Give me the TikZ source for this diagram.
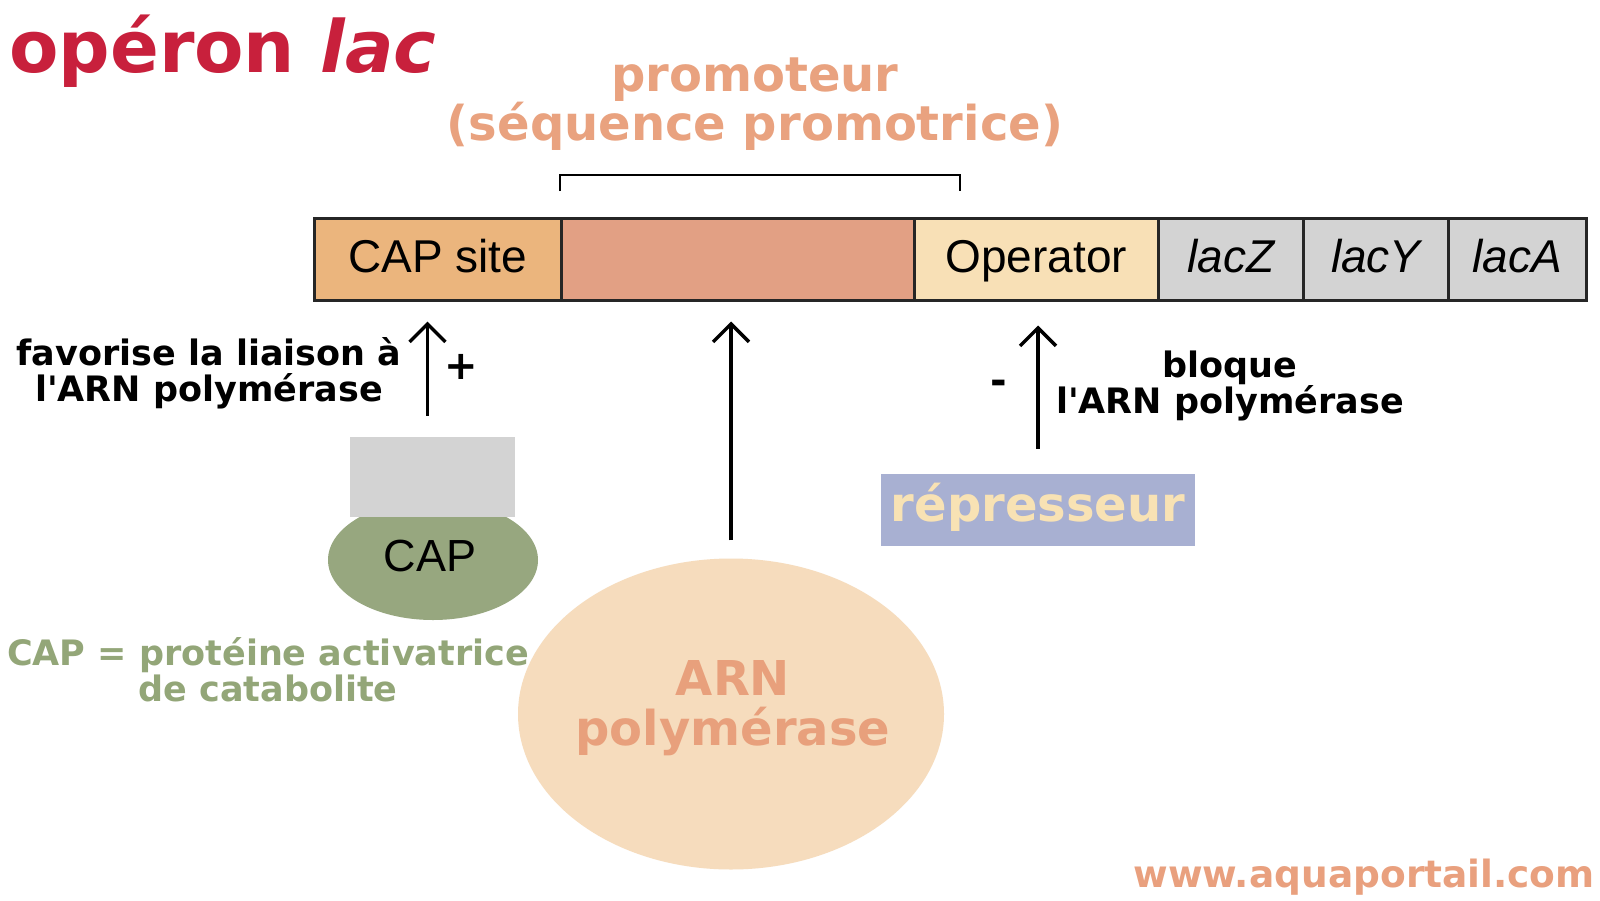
\documentclass[tikz,border=0pt]{standalone}
\usepackage{fontspec}
\setmainfont{DejaVu Sans}
\newfontfamily\arialfont{Liberation Sans}
\usetikzlibrary{arrows.meta,shapes.geometric}
\definecolor{capsitefill}{HTML}{EBB57D}
\definecolor{promofill}{HTML}{E2A084}
\definecolor{operfill}{HTML}{F8E0B6}
\definecolor{genegray}{HTML}{D3D3D3}
\definecolor{titlered}{HTML}{C8203C}
\definecolor{promotxt}{HTML}{E9A27F}
\definecolor{capgreen}{HTML}{97A77F}
\definecolor{capgreentxt}{HTML}{93A678}
\definecolor{arnfill}{HTML}{F6DCBD}
\definecolor{arntxt}{HTML}{E8A07C}
\definecolor{repblue}{HTML}{A8B0D2}
\definecolor{reptxt}{HTML}{F8E2B4}
\definecolor{webtxt}{HTML}{E9A07E}
\tikzset{
  cell/.style={draw=black!85, line width=2.5pt, minimum height=82pt, anchor=north west,
    inner sep=0pt, text height=36pt, text depth=10pt, font=\arialfont\fontsize{46}{46}\selectfont},
  genecell/.style={cell, fill=genegray, font=\arialfont\itshape\fontsize{46}{46}\selectfont},
  lbl/.style={inner sep=0pt, align=center, font=\bfseries\fontsize{35}{36}\selectfont},
  bigtxt/.style={inner sep=0pt, align=center, font=\bfseries\fontsize{48}{48}\selectfont},
  arr/.style={-{Straight Barb[length=18pt,width=36pt]}, line width=3.5pt},
}
\begin{document}
\begin{tikzpicture}[x=1pt,y=-1pt]
\useasboundingbox[fill=white] (0,0) rectangle (1600,900);
% title
\node[anchor=base west, inner sep=0pt, text=titlered, font=\bfseries\fontsize{72}{72}\selectfont] (title) at (9,72) {opéron \textit{lac}};
% promoter label
\node[bigtxt, text=promotxt] (promtxt) at (755,104) {promoteur\\(séquence promotrice)};
\coordinate (bl) at (560,191);
\coordinate (blt) at (560,175);
\coordinate (brt) at (960,175);
\coordinate (br) at (960,191);
\draw[line width=2.5pt] (bl) -- (blt) -- (brt) -- (br);
% operon bar
\node[cell, fill=capsitefill, minimum width=247pt] (capsite) at (313,217) {CAP site};
\node[cell, fill=promofill, minimum width=353pt] (promo) at (560,217) {};
\node[cell, fill=operfill, minimum width=244pt] (oper) at (913,217) {Operator};
\node[genecell, minimum width=145pt] (lacZ) at (1157,217) {lacZ};
\node[genecell, minimum width=145pt] (lacY) at (1302,217) {lacY};
\node[genecell, minimum width=138pt] (lacA) at (1447,217) {lacA};
% CAP protein
\node[ellipse, fill=capgreen, minimum width=210pt, minimum height=120pt, inner sep=0pt] (capell) at (433,560) {};
\node[fill=genegray, minimum width=165pt, minimum height=80pt, inner sep=0pt] (capbox) at (432.5,477) {};
\node[inner sep=0pt, font=\arialfont\fontsize{45}{45}\selectfont] (captxt) at (430,556) {CAP};
\node[lbl, text=capgreentxt] (capdef) at (268,670) {CAP = protéine activatrice\\de catabolite};
% CAP arrow
\draw[arr, shorten <=21pt, shorten >=20pt] ([xshift=-5pt]capbox.north) -- ([xshift=-5pt]capbox.north |- capsite.south);
\node[inner sep=0pt, font=\bfseries\fontsize{40}{40}\selectfont] (plus) at (461,367) {+};
\node[lbl] (favtxt) at (209,373) {favorise la liaison à\\l\textquotesingle ARN polymérase};
% RNA polymerase
\node[ellipse, fill=arnfill, minimum width=426pt, minimum height=311pt, inner sep=0pt] (arn) at (731,714) {};
\node[bigtxt, text=arntxt, font=\bfseries\fontsize{48}{50}\selectfont] (arntxt) at (733,708) {ARN\\polymérase};
\draw[arr, shorten <=18pt, shorten >=20pt] (arn.north) -- (arn.north |- promo.south);
% repressor
\node[fill=repblue, minimum width=314pt, minimum height=72pt, inner sep=0pt] (rep) at (1038,510) {};
\node[bigtxt, text=reptxt] (reptxt) at (1038,507) {répresseur};
\draw[arr, shorten <=25pt, shorten >=24pt] (rep.north) -- (rep.north |- oper.south);
\node[inner sep=0pt, font=\bfseries\fontsize{40}{40}\selectfont] (minus) at (999,387) {-};
\node[lbl] (bloqtxt) at (1230,386) {bloque\\l\textquotesingle ARN polymérase};
% website
\node[inner sep=0pt, text=webtxt, font=\bfseries\fontsize{37.5}{37.5}\selectfont] (web) at (1364,877) {www.aquaportail.com};
\end{tikzpicture}
\end{document}
